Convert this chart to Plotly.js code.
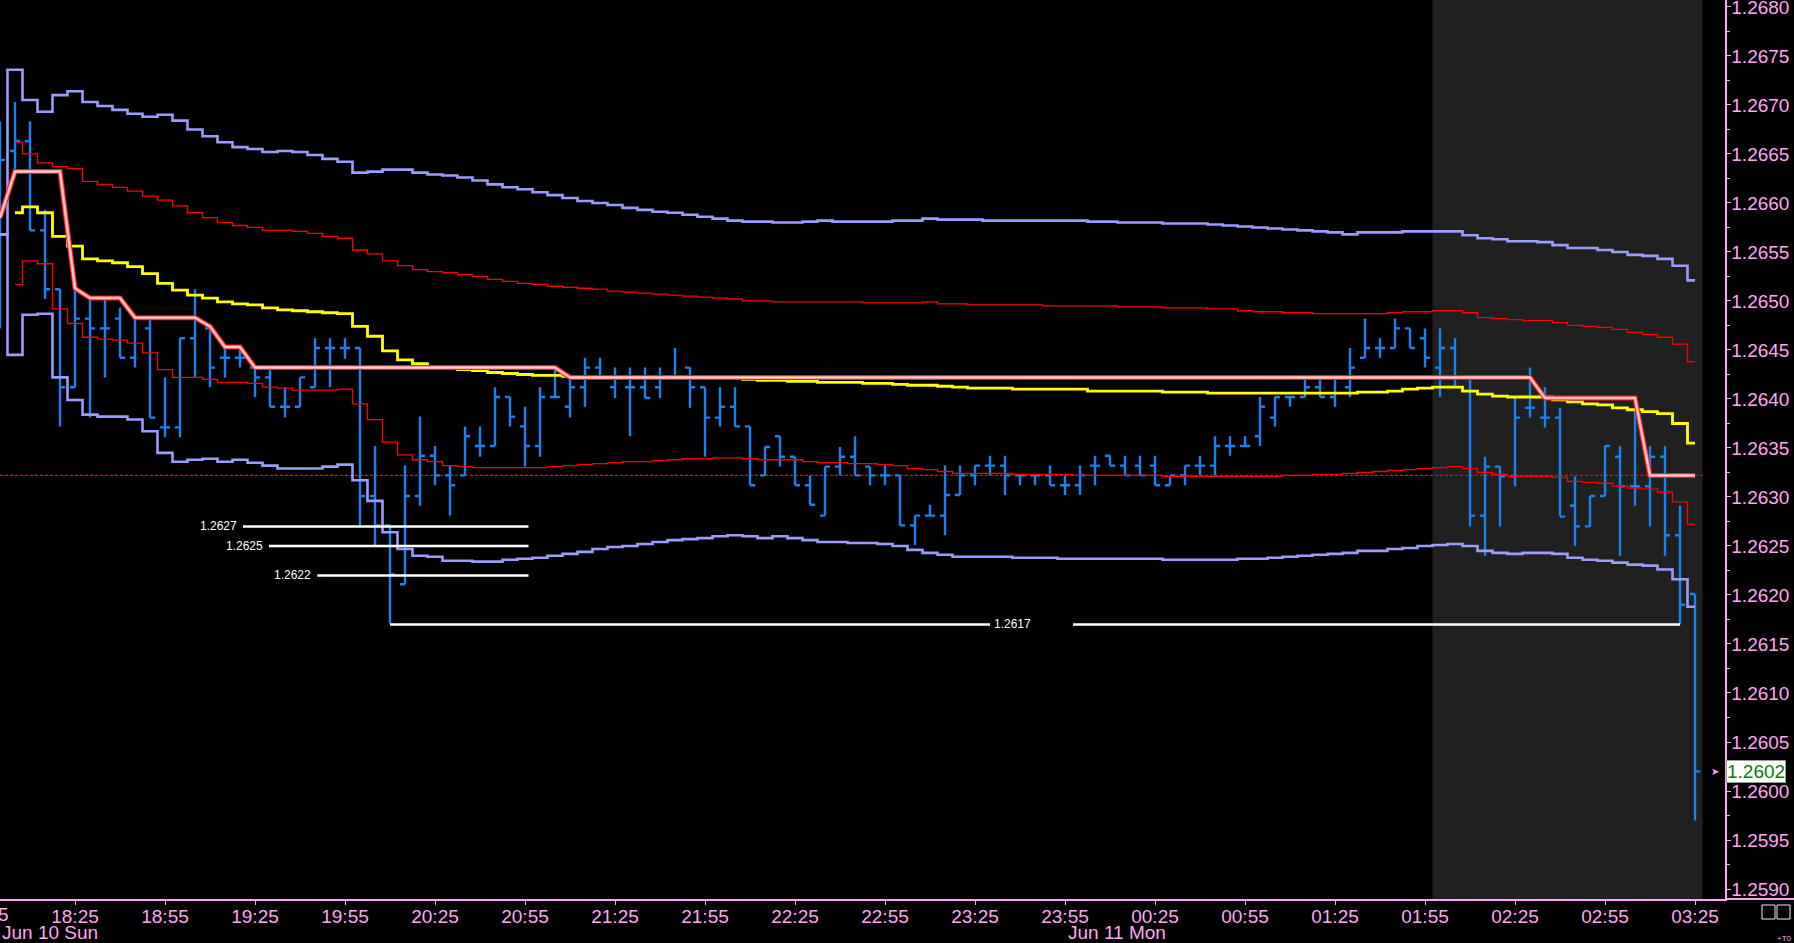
<!DOCTYPE html>
<html>
<head>
<meta charset="utf-8">
<script src="https://cdn.plot.ly/plotly-3.0.1.min.js"></script>
<style>
html,body{margin:0;padding:0;background:#000;overflow:hidden;}
#chart{width:1794px;height:943px;}
</style>
</head>
<body>
<div id="chart"></div>
<script>
// ---------- DATA (5-minute bars starting Jun 10 18:00) ----------
const firstBarDay = 10;
const firstBarMinute = 18 * 60;
const barMinutes = 5;

const openVals = [
1.26560,1.26653,1.26663,1.26572,1.26512,1.26412,1.26482,1.26472,1.26482,1.26442,
1.26472,1.26371,1.26371,1.26462,1.26472,1.26442,1.26442,1.26432,1.26422,1.26392,
1.26392,1.26412,1.26452,1.26452,1.26452,1.26301,1.26271,1.26211,1.26301,1.26342,
1.26322,1.26322,1.26352,1.26352,1.26402,1.26372,1.26352,1.26402,1.26392,1.26412,
1.26432,1.26412,1.26412,1.26412,1.26412,1.26422,1.26432,1.26412,1.26381,1.26392,
1.26372,1.26322,1.26362,1.26341,1.26312,1.26281,1.26331,1.26341,1.26331,1.26322,
1.26322,1.26271,1.26281,1.26281,1.26302,1.26322,1.26332,1.26332,1.26322,1.26322,
1.26322,1.26312,1.26312,1.26332,1.26342,1.26332,1.26332,1.26332,1.26312,1.26322,
1.26332,1.26332,1.26352,1.26352,1.26362,1.26381,1.26402,1.26402,1.26412,1.26402,
1.26412,1.26442,1.26452,1.26452,1.26472,1.26462,1.26432,1.26452,1.26422,1.26281,
1.26331,1.26321,1.26391,1.26381,1.26381,1.26291,1.26270,1.26301,1.26341,1.26311,
1.26311,1.26341,1.26261,1.26201];
const highVals = [
1.26683,1.26703,1.26683,1.26593,1.26512,1.26512,1.26502,1.26502,1.26493,1.26482,
1.26482,1.26422,1.26462,1.26512,1.26472,1.26452,1.26452,1.26432,1.26432,1.26412,
1.26422,1.26462,1.26462,1.26462,1.26452,1.26352,1.26271,1.26332,1.26382,1.26352,
1.26332,1.26372,1.26372,1.26412,1.26402,1.26392,1.26412,1.26432,1.26422,1.26442,
1.26442,1.26432,1.26432,1.26432,1.26432,1.26452,1.26432,1.26412,1.26412,1.26412,
1.26372,1.26351,1.26362,1.26341,1.26322,1.26331,1.26351,1.26362,1.26331,1.26332,
1.26322,1.26281,1.26292,1.26332,1.26332,1.26332,1.26342,1.26342,1.26322,1.26322,
1.26332,1.26322,1.26332,1.26342,1.26342,1.26342,1.26342,1.26342,1.26322,1.26332,
1.26342,1.26362,1.26362,1.26362,1.26402,1.26402,1.26402,1.26422,1.26422,1.26422,
1.26452,1.26482,1.26462,1.26482,1.26472,1.26472,1.26472,1.26462,1.26422,1.26341,
1.26331,1.26401,1.26432,1.26412,1.26391,1.26321,1.26301,1.26352,1.26352,1.26391,
1.26352,1.26352,1.26291,1.26201];
const lowVals = [
1.26472,1.26632,1.26572,1.26502,1.26372,1.26412,1.26381,1.26422,1.26442,1.26432,
1.26381,1.26361,1.26361,1.26422,1.26412,1.26422,1.26432,1.26402,1.26392,1.26381,
1.26392,1.26412,1.26412,1.26441,1.26271,1.26251,1.26171,1.26211,1.26291,1.26312,
1.26281,1.26322,1.26341,1.26352,1.26372,1.26331,1.26341,1.26402,1.26381,1.26392,
1.26422,1.26401,1.26362,1.26401,1.26401,1.26422,1.26391,1.26341,1.26372,1.26372,
1.26312,1.26322,1.26331,1.26312,1.26292,1.26281,1.26322,1.26322,1.26312,1.26312,
1.26271,1.26251,1.26281,1.26261,1.26302,1.26312,1.26322,1.26302,1.26312,1.26312,
1.26312,1.26302,1.26302,1.26312,1.26332,1.26322,1.26322,1.26312,1.26312,1.26312,
1.26322,1.26322,1.26342,1.26352,1.26352,1.26372,1.26392,1.26402,1.26402,1.26392,
1.26402,1.26442,1.26442,1.26452,1.26452,1.26432,1.26402,1.26412,1.26270,1.26240,
1.26270,1.26311,1.26381,1.26371,1.26280,1.26250,1.26270,1.26301,1.26240,1.26291,
1.26270,1.26240,1.26170,1.25970];
const closeVals = [
1.26644,1.26663,1.26572,1.26512,1.26412,1.26482,1.26472,1.26472,1.26442,1.26482,
1.26381,1.26371,1.26462,1.26482,1.26432,1.26442,1.26442,1.26422,1.26392,1.26392,
1.26422,1.26452,1.26452,1.26452,1.26301,1.26271,1.26221,1.26301,1.26342,1.26322,
1.26312,1.26362,1.26352,1.26402,1.26382,1.26352,1.26402,1.26402,1.26412,1.26432,
1.26422,1.26422,1.26412,1.26401,1.26422,1.26422,1.26412,1.26381,1.26392,1.26372,
1.26312,1.26351,1.26341,1.26312,1.26292,1.26331,1.26341,1.26322,1.26322,1.26322,
1.26271,1.26281,1.26281,1.26302,1.26322,1.26332,1.26332,1.26322,1.26322,1.26322,
1.26312,1.26312,1.26322,1.26332,1.26332,1.26322,1.26322,1.26312,1.26322,1.26332,
1.26332,1.26352,1.26352,1.26352,1.26392,1.26402,1.26402,1.26412,1.26402,1.26422,
1.26432,1.26452,1.26452,1.26472,1.26452,1.26442,1.26452,1.26422,1.26281,1.26331,
1.26321,1.26381,1.26391,1.26381,1.26280,1.26270,1.26301,1.26352,1.26311,1.26311,
1.26341,1.26261,1.26190,1.26020];

// Outer band (lavender)
const outerUpper = [
1.26568,1.26736,1.26705,1.26693,1.26710,1.26714,1.26703,1.26699,1.26695,1.26691,
1.26688,1.26690,1.26684,1.26675,1.26668,1.26662,1.26657,1.26655,1.26652,1.26653,
1.26652,1.26649,1.26645,1.26642,1.26631,1.26632,1.26634,1.26634,1.26631,1.26629,
1.26628,1.26626,1.26623,1.26619,1.26616,1.26614,1.26611,1.26608,1.26605,1.26602,
1.26600,1.26598,1.26595,1.26593,1.26591,1.26590,1.26588,1.26586,1.26584,1.26582,
1.26581,1.26581,1.26580,1.26580,1.26581,1.26582,1.26581,1.26581,1.26581,1.26581,
1.26582,1.26582,1.26584,1.26583,1.26583,1.26583,1.26582,1.26582,1.26582,1.26582,
1.26582,1.26582,1.26582,1.26581,1.26581,1.26580,1.26580,1.26580,1.26579,1.26579,
1.26579,1.26578,1.26577,1.26576,1.26575,1.26574,1.26573,1.26572,1.26571,1.26570,
1.26568,1.26570,1.26570,1.26570,1.26571,1.26571,1.26571,1.26571,1.26567,1.26564,
1.26563,1.26561,1.26561,1.26560,1.26557,1.26554,1.26554,1.26552,1.26550,1.26547,
1.26546,1.26543,1.26536,1.26521];
const outerLower = [
1.26568,1.26445,1.26486,1.26487,1.26422,1.26399,1.26384,1.26382,1.26382,1.26379,
1.26367,1.26345,1.26336,1.26338,1.26339,1.26336,1.26338,1.26335,1.26332,1.26329,
1.26329,1.26329,1.26331,1.26333,1.26317,1.26296,1.26264,1.26247,1.26240,1.26239,
1.26235,1.26235,1.26234,1.26234,1.26236,1.26237,1.26238,1.26240,1.26242,1.26244,
1.26247,1.26249,1.26250,1.26252,1.26254,1.26256,1.26257,1.26258,1.26260,1.26261,
1.26260,1.26258,1.26260,1.26258,1.26256,1.26254,1.26254,1.26253,1.26253,1.26252,
1.26250,1.26246,1.26243,1.26241,1.26239,1.26239,1.26239,1.26239,1.26238,1.26238,
1.26238,1.26237,1.26237,1.26237,1.26237,1.26237,1.26237,1.26237,1.26236,1.26236,
1.26236,1.26236,1.26236,1.26237,1.26237,1.26238,1.26239,1.26240,1.26241,1.26242,
1.26243,1.26245,1.26245,1.26247,1.26248,1.26250,1.26251,1.26252,1.26250,1.26245,
1.26243,1.26242,1.26243,1.26243,1.26242,1.26238,1.26236,1.26235,1.26233,1.26231,
1.26230,1.26226,1.26216,1.26188];

// Inner band (red)
const innerUpper = [
null,1.26662,1.26650,1.26641,1.26637,1.26635,1.26622,1.26619,1.26616,1.26612,
1.26607,1.26603,1.26597,1.26590,1.26585,1.26580,1.26577,1.26575,1.26572,1.26572,
1.26571,1.26569,1.26566,1.26564,1.26552,1.26548,1.26541,1.26536,1.26532,1.26530,
1.26529,1.26527,1.26525,1.26522,1.26520,1.26518,1.26517,1.26515,1.26514,1.26513,
1.26512,1.26510,1.26509,1.26508,1.26507,1.26506,1.26505,1.26504,1.26503,1.26502,
1.26500,1.26500,1.26499,1.26499,1.26499,1.26499,1.26499,1.26499,1.26498,1.26498,
1.26498,1.26498,1.26499,1.26497,1.26497,1.26496,1.26496,1.26496,1.26496,1.26496,
1.26495,1.26495,1.26495,1.26495,1.26495,1.26494,1.26494,1.26494,1.26493,1.26493,
1.26493,1.26492,1.26492,1.26490,1.26489,1.26489,1.26488,1.26488,1.26487,1.26487,
1.26487,1.26487,1.26487,1.26488,1.26489,1.26489,1.26490,1.26490,1.26488,1.26483,
1.26482,1.26481,1.26480,1.26480,1.26478,1.26475,1.26474,1.26473,1.26471,1.26468,
1.26466,1.26463,1.26456,1.26438];
const innerLower = [
null,1.26517,1.26541,1.26538,1.26492,1.26477,1.26463,1.26461,1.26460,1.26457,
1.26447,1.26430,1.26422,1.26422,1.26420,1.26417,1.26417,1.26416,1.26412,1.26411,
1.26409,1.26409,1.26409,1.26410,1.26395,1.26379,1.26356,1.26343,1.26338,1.26336,
1.26332,1.26331,1.26330,1.26330,1.26330,1.26330,1.26330,1.26331,1.26332,1.26333,
1.26334,1.26335,1.26336,1.26336,1.26337,1.26338,1.26339,1.26339,1.26340,1.26340,
1.26339,1.26338,1.26338,1.26338,1.26336,1.26335,1.26335,1.26334,1.26334,1.26333,
1.26332,1.26329,1.26328,1.26326,1.26324,1.26324,1.26324,1.26324,1.26323,1.26323,
1.26323,1.26323,1.26322,1.26322,1.26322,1.26322,1.26322,1.26322,1.26321,1.26321,
1.26321,1.26321,1.26321,1.26321,1.26321,1.26321,1.26322,1.26322,1.26323,1.26323,
1.26324,1.26325,1.26326,1.26327,1.26328,1.26329,1.26330,1.26331,1.26329,1.26325,
1.26323,1.26321,1.26321,1.26321,1.26320,1.26316,1.26315,1.26314,1.26311,1.26309,
1.26308,1.26305,1.26295,1.26272];

// Moving average (yellow)
const movingAvg = [
null,1.26590,1.26596,1.26590,1.26566,1.26556,1.26543,1.26541,1.26539,1.26535,
1.26528,1.26518,1.26511,1.26506,1.26503,1.26499,1.26497,1.26496,1.26493,1.26491,
1.26490,1.26489,1.26488,1.26487,1.26474,1.26464,1.26449,1.26440,1.26436,1.26433,
1.26431,1.26430,1.26429,1.26427,1.26426,1.26425,1.26424,1.26424,1.26423,1.26423,
1.26423,1.26423,1.26423,1.26423,1.26423,1.26423,1.26423,1.26421,1.26421,1.26421,
1.26420,1.26419,1.26419,1.26418,1.26418,1.26417,1.26417,1.26417,1.26416,1.26416,
1.26415,1.26414,1.26414,1.26413,1.26412,1.26411,1.26411,1.26411,1.26410,1.26410,
1.26410,1.26410,1.26410,1.26408,1.26408,1.26408,1.26408,1.26408,1.26407,1.26407,
1.26407,1.26406,1.26406,1.26406,1.26406,1.26406,1.26406,1.26406,1.26406,1.26406,
1.26406,1.26407,1.26407,1.26408,1.26410,1.26411,1.26412,1.26412,1.26408,1.26405,
1.26403,1.26402,1.26402,1.26402,1.26399,1.26397,1.26395,1.26394,1.26391,1.26389,
1.26387,1.26385,1.26375,1.26355];

// Trailing stop line (pink)
const trailLine = [
1.26585,1.26632,1.26632,1.26632,1.26632,1.26513,1.26503,1.26503,1.26503,1.26483,
1.26483,1.26483,1.26483,1.26483,1.26474,1.26453,1.26453,1.26432,1.26432,1.26432,
1.26432,1.26432,1.26432,1.26432,1.26432,1.26432,1.26432,1.26432,1.26432,1.26432,
1.26432,1.26432,1.26432,1.26432,1.26432,1.26432,1.26432,1.26432,1.26422,1.26422,
1.26422,1.26422,1.26422,1.26422,1.26422,1.26422,1.26422,1.26422,1.26422,1.26422,
1.26422,1.26422,1.26422,1.26422,1.26422,1.26422,1.26422,1.26422,1.26422,1.26422,
1.26422,1.26422,1.26422,1.26422,1.26422,1.26422,1.26422,1.26422,1.26422,1.26422,
1.26422,1.26422,1.26422,1.26422,1.26422,1.26422,1.26422,1.26422,1.26422,1.26422,
1.26422,1.26422,1.26422,1.26422,1.26422,1.26422,1.26422,1.26422,1.26422,1.26422,
1.26422,1.26422,1.26422,1.26422,1.26422,1.26422,1.26422,1.26422,1.26422,1.26422,
1.26422,1.26422,1.26422,1.26401,1.26401,1.26401,1.26401,1.26401,1.26401,1.26401,
1.26322,1.26322,1.26322,1.26322];

// Reference level (dotted) and untested-low levels (white)
const referenceLevel = 1.26322;
const levelValues = [1.2627, 1.2625, 1.2622, 1.2617];
const levelLabels = ['1.2627', '1.2625', '1.2622', '1.2617'];
const levelStarts = ['2018-06-10 19:21:00', '2018-06-10 19:29:40', '2018-06-10 19:45:45', '2018-06-10 20:10:00'];
const levelEnds   = ['2018-06-10 20:56:10', '2018-06-10 20:56:10', '2018-06-10 20:56:10', '2018-06-11 03:20:00'];
const level4LabelGap = ['2018-06-10 23:30:00', '2018-06-10 23:57:40'];

const lastPrice = 1.2602;
const lastPriceLabel = '1.2602';
const sessionShade = ['2018-06-11 01:57:30', '2018-06-11 03:27:30'];
const xRange = ['2018-06-10 18:00:00', '2018-06-11 03:35:00'];
const yRange = [1.258898, 1.268071];
const dayLabels = ['Jun 10 Sun', 'Jun 11 Mon'];
const dayLabelTimes = [null, '2018-06-10 23:55:20'];
const partialTickTime = '2018-06-10 17:55:00';

// ---------- helpers ----------
function pad(n){ return (n < 10 ? '0' : '') + n; }
function timeAt(minutesFromFirst, secs) {
  const total = firstBarMinute + minutesFromFirst;
  const day = firstBarDay + Math.floor(total / 1440);
  const m = total % 1440;
  return '2018-06-' + pad(day) + ' ' + pad(Math.floor(m / 60)) + ':' + pad(m % 60) + ':' + pad(secs || 0);
}
const times = openVals.map((_, i) => timeAt(i * barMinutes));
function toMs(s){ return new Date(s.replace(' ', 'T') + 'Z').getTime(); }

// ---------- style ----------
const PINK = '#ffa6ef';
const FONT = "'Liberation Sans', Arial, sans-serif";
const BAR_BLUE = '#1a82f0';

const traces = [];
function stepLine(y, color, width) {
  return {type:'scatter', mode:'lines', x:times, y:y, line:{color:color, width:width, shape:'hvh'},
          connectgaps:false, hoverinfo:'skip'};
}
traces.push(stepLine(outerUpper, '#9c9cff', 2.6));
traces.push(stepLine(outerLower, '#9c9cff', 2.6));
traces.push(stepLine(innerUpper, '#ff0000', 1.3));
traces.push(stepLine(innerLower, '#ff0000', 1.3));
traces.push(stepLine(movingAvg, '#ffff00', 2.8));

// trail line: layered pink band
traces.push({type:'scatter', mode:'lines', x:times, y:trailLine, line:{color:'#ff1a1a', width:5}, hoverinfo:'skip'});
traces.push({type:'scatter', mode:'lines', x:times, y:trailLine, line:{color:'#ff9a9a', width:3}, hoverinfo:'skip'});
traces.push({type:'scatter', mode:'lines', x:times, y:trailLine, line:{color:'#ffe6e6', width:1}, hoverinfo:'skip'});

// white level lines
levelValues.forEach((v, i) => {
  if (i === 3) {
    traces.push({type:'scatter', mode:'lines', x:[levelStarts[i], level4LabelGap[0]], y:[v, v], line:{color:'#ffffff', width:2.5}, hoverinfo:'skip'});
    traces.push({type:'scatter', mode:'lines', x:[level4LabelGap[1], levelEnds[i]], y:[v, v], line:{color:'#ffffff', width:2.5}, hoverinfo:'skip'});
  } else {
    traces.push({type:'scatter', mode:'lines', x:[levelStarts[i], levelEnds[i]], y:[v, v], line:{color:'#ffffff', width:2.5}, hoverinfo:'skip'});
  }
});

// OHLC bars
traces.push({
  type:'ohlc', x:times, open:openVals, high:highVals, low:lowVals, close:closeVals,
  increasing:{line:{color:BAR_BLUE, width:2.4}},
  decreasing:{line:{color:BAR_BLUE, width:2.4}},
  tickwidth:0.34, hoverinfo:'skip'
});

const annotations = [];
levelValues.forEach((v, i) => {
  if (i === 3) {
    annotations.push({xref:'x', yref:'y', x:level4LabelGap[0], y:v, text:levelLabels[i], showarrow:false,
      xanchor:'left', yanchor:'middle', xshift:2, font:{family:FONT, size:12, color:'#ffffff'}});
  } else {
    annotations.push({xref:'x', yref:'y', x:levelStarts[i], y:v, text:levelLabels[i], showarrow:false,
      xanchor:'right', yanchor:'middle', xshift:-4, font:{family:FONT, size:12, color:'#ffffff'}});
  }
});
// day labels
annotations.push({xref:'paper', yref:'paper', x:0, y:0, yanchor:'top', xanchor:'left', yshift:-21,
  text:dayLabels[0], showarrow:false, font:{family:FONT, size:19, color:PINK}});
annotations.push({xref:'x', yref:'paper', x:dayLabelTimes[1], y:0, yanchor:'top', xanchor:'left', yshift:-21,
  text:dayLabels[1], showarrow:false, font:{family:FONT, size:19, color:PINK}});
// partially visible tick label at left edge
const span = toMs(xRange[1]) - toMs(xRange[0]);
annotations.push({xref:'paper', yref:'paper', x:(toMs(partialTickTime) - toMs(xRange[0])) / span, y:0,
  yanchor:'top', xanchor:'center', yshift:-3, text:'17:55', showarrow:false, font:{family:FONT, size:19, color:PINK}});
// last price marker
annotations.push({xref:'paper', yref:'y', x:1, y:lastPrice, xanchor:'left', yanchor:'middle', xshift:1,
  text:lastPriceLabel, showarrow:false, bgcolor:'#ffffff', bordercolor:'#9a9a9a', borderwidth:1, borderpad:0,
  font:{family:FONT, size:19, color:'#0a7a0a'}});
annotations.push({xref:'paper', yref:'y', x:1, y:lastPrice, xanchor:'right', yanchor:'middle', xshift:-4,
  text:'➤', showarrow:false, font:{family:'DejaVu Sans', size:10, color:PINK}});
// corner marks
annotations.push({xref:'paper', yref:'paper', x:1, y:0, xanchor:'left', yanchor:'top', xshift:50, yshift:-33,
  text:'+T0', showarrow:false, font:{family:FONT, size:8, color:PINK}});

const shapes = [
  {type:'rect', xref:'x', yref:'paper', x0:sessionShade[0], x1:sessionShade[1], y0:0, y1:1,
   fillcolor:'#202020', line:{width:0}, layer:'below'},
  {type:'line', xref:'x', yref:'y', x0:xRange[0], x1:sessionShade[1], y0:referenceLevel, y1:referenceLevel,
   line:{color:'#ff0000', width:1.2, dash:'3px,2px'}, layer:'below'},
  {type:'line', xref:'paper', yref:'paper', x0:1, x1:1.04, y0:0, y1:0, line:{color:PINK, width:2}},
  {type:'rect', xref:'paper', yref:'paper', x0:1762/1725, x1:1775/1725, y0:-6/899, y1:-20/899, line:{color:'#ffe4ff', width:1}},
  {type:'rect', xref:'paper', yref:'paper', x0:1777/1725, x1:1790/1725, y0:-6/899, y1:-20/899, line:{color:'#ffe4ff', width:1}}
];

const layout = {
  width:1794, height:943,
  margin:{l:0, r:69, t:0, b:44, pad:0},
  paper_bgcolor:'#000000', plot_bgcolor:'#000000',
  showlegend:false, hovermode:false, dragmode:false,
  xaxis:{
    type:'date', range:xRange, autorange:false, automargin:false,
    rangeslider:{visible:false},
    tick0:'2018-06-10 18:25:00', dtick:1800000, tickformat:'%H:%M',
    ticks:'outside', ticklen:4, tickwidth:1, tickcolor:PINK,
    ticklabelstandoff:-5,
    showline:true, linecolor:PINK, linewidth:2,
    showgrid:false, zeroline:false,
    tickfont:{family:FONT, size:19, color:PINK}
  },
  yaxis:{
    side:'right', range:yRange, autorange:false, automargin:false,
    tick0:1.26, dtick:0.0005, tickformat:'.4f',
    ticks:'outside', ticklen:4, tickwidth:1, tickcolor:PINK,
    ticklabelstandoff:-3, ticklabeloverflow:'allow',
    minor:{dtick:0.00025, ticks:'outside', ticklen:3, tickcolor:PINK},
    showline:true, linecolor:PINK, linewidth:1.5,
    showgrid:false, zeroline:false,
    tickfont:{family:FONT, size:19, color:PINK}
  },
  shapes:shapes,
  annotations:annotations
};

Plotly.newPlot('chart', traces, layout, {displayModeBar:false, staticPlot:true});
</script>
</body>
</html>
